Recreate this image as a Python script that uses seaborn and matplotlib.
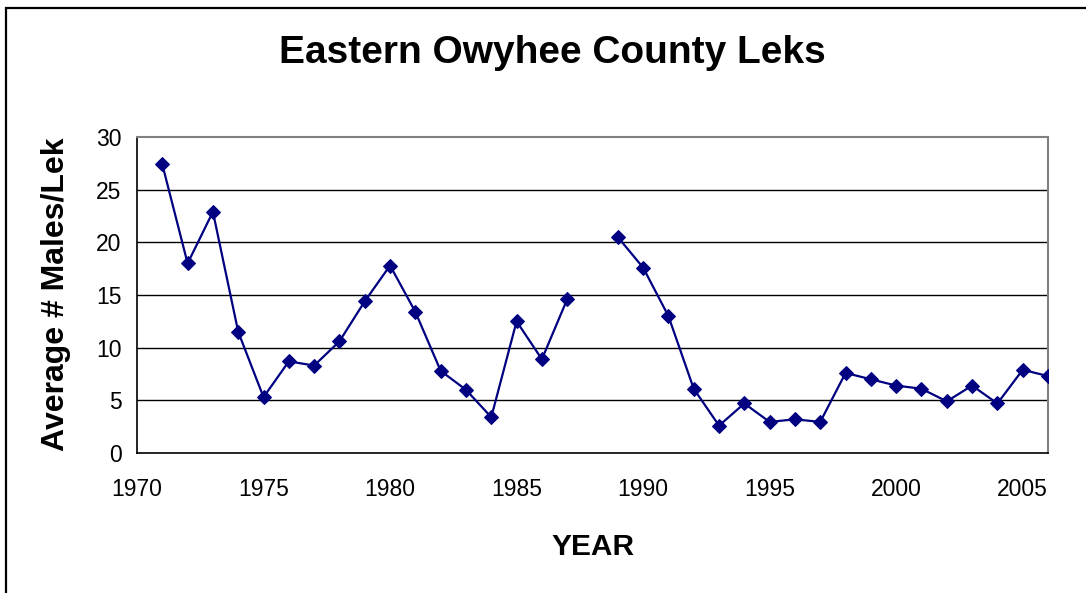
import numpy as np
import pandas as pd
import matplotlib
matplotlib.use("Agg")
import matplotlib.pyplot as plt
import seaborn as sns
from matplotlib.patches import Rectangle

years = [1971, 1972, 1973, 1974, 1975, 1976, 1977, 1978, 1979, 1980,
         1981, 1982, 1983, 1984, 1985, 1986, 1987,
         1989, 1990, 1991, 1992, 1993, 1994, 1995, 1996, 1997, 1998,
         1999, 2000, 2001, 2002, 2003, 2004, 2005, 2006]
males_per_lek = [27.4, 18.0, 22.9, 11.5, 5.3, 8.7, 8.3, 10.6, 14.4, 17.8,
                 13.4, 7.8, 6.0, 3.4, 12.5, 8.9, 14.6,
                 20.5, 17.6, 13.0, 6.1, 2.6, 4.7, 2.95, 3.2, 2.95, 7.6,
                 7.0, 6.4, 6.1, 4.9, 6.4, 4.7, 7.9, 7.3]
segment = [0] * 17 + [1] * 18  # no data for 1988 -> gap in the line

x_ticks = [1970, 1975, 1980, 1985, 1990, 1995, 2000, 2005]
y_ticks = [0, 5, 10, 15, 20, 25, 30]

df = pd.DataFrame({"year": years, "males": males_per_lek, "seg": segment})

sns.set_style("white")
plt.rcParams["font.family"] = ["Liberation Sans", "DejaVu Sans"]
plt.rcParams["text.color"] = "black"
plt.rcParams["axes.labelcolor"] = "black"
plt.rcParams["xtick.color"] = "black"
plt.rcParams["ytick.color"] = "black"

fig = plt.figure(figsize=(10.86, 5.93), dpi=100)
ax = fig.add_axes([137 / 1086, 1 - 453 / 593, 911 / 1086, 316 / 593])

sns.lineplot(data=df, x="year", y="males", units="seg", estimator=None,
             color="#000080", marker="D", markersize=7, markeredgecolor="#000080",
             linewidth=1.6, ax=ax, zorder=3)

ax.set_xlim(1970, 2006)
ax.set_ylim(0, 30)
ax.set_xticks(x_ticks)
ax.set_yticks(y_ticks)
ax.tick_params(axis="both", labelsize=16.5, labelcolor="black", direction="out",
               length=5, width=1, color="black", pad=6)
ax.tick_params(axis="x", pad=13)
for g in y_ticks[1:-1]:
    ax.axhline(g, color="black", linewidth=1, zorder=1)

for side in ["top", "right"]:
    ax.spines[side].set_color("#808080")
    ax.spines[side].set_linewidth(1.5)
for side in ["left", "bottom"]:
    ax.spines[side].set_color("black")
    ax.spines[side].set_linewidth(1.2)

ax.set_xlabel("YEAR", fontsize=21.5, fontweight="bold", color="black", va="center")
ax.set_ylabel("Average # Males/Lek", fontsize=23, fontweight="bold", color="black", va="center")
ax.xaxis.set_label_coords(0.5, (453 - 547) / 316)
ax.yaxis.set_label_coords((56 - 137) / 911, 0.503)
fig.text(552 / 1086, 1 - 53 / 593, "Eastern Owyhee County Leks",
         fontsize=28, fontweight="bold", ha="center", va="center", color="black")

fig.patches.append(Rectangle((6 / 1086, -0.1), 1.2, 1.1 - 8 / 593,
                             transform=fig.transFigure, fill=False,
                             edgecolor="black", linewidth=1.6))

fig.savefig("out.png", dpi=100)
